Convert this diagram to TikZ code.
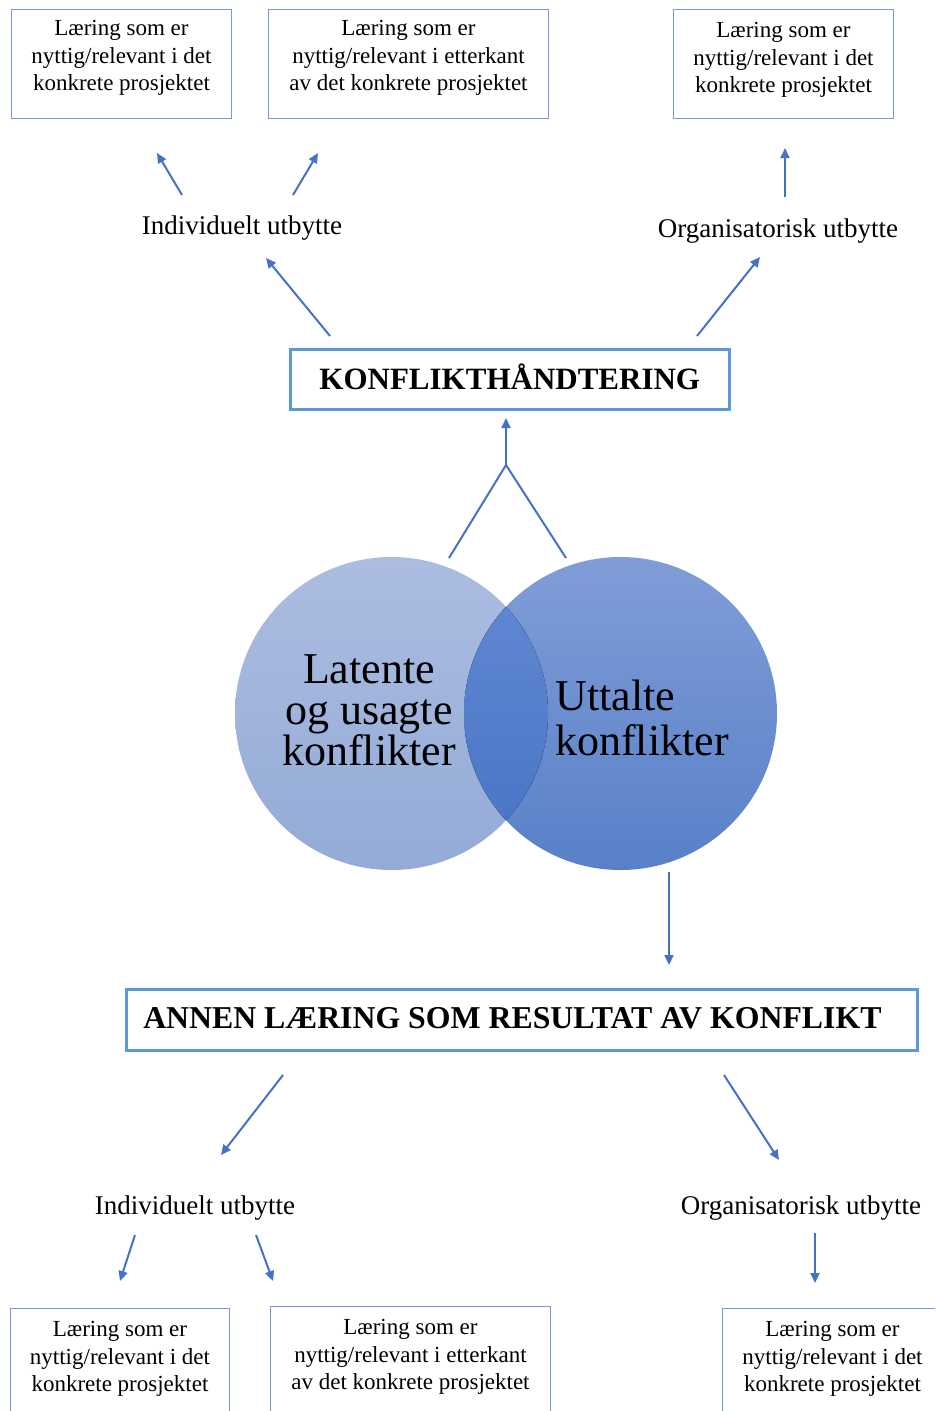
\documentclass[tikz,border=0pt]{standalone}
\usepackage{fontspec}
\setmainfont{Liberation Serif}
\usetikzlibrary{arrows.meta}
\definecolor{arrowblue}{RGB}{68,114,196}
\definecolor{boxline}{RGB}{120,155,215}
\definecolor{titleline}{RGB}{91,155,213}
\definecolor{lctop}{RGB}{172,188,225}
\definecolor{lcbot}{RGB}{147,171,214}
\definecolor{rctop}{RGB}{128,157,216}
\definecolor{rcbot}{RGB}{88,128,200}
\definecolor{ovtop}{RGB}{100,138,210}
\definecolor{ovbot}{RGB}{70,115,198}
\newcommand{\boxfont}{\fontsize{23}{27.5}\selectfont}
\newcommand{\lblfont}{\fontsize{27}{32}\selectfont}
\newcommand{\ttlfont}{\fontsize{31}{36}\selectfont\bfseries}
\newcommand{\learnbox}[3]{\parbox[c][109pt][t]{#2}{\boxfont\centering\vspace*{#1}#3\par}}
\begin{document}
\begin{tikzpicture}[x=1pt,y=-1pt,
  smallbox/.style={draw=boxline, line width=1pt, inner sep=0pt, anchor=north west},
  titlebox/.style={draw=titleline, line width=2.5pt, inner sep=0pt, anchor=north west, font=\ttlfont},
  outlbl/.style={font=\lblfont, inner sep=0pt},
  arr/.style={draw=arrowblue, line width=2pt, -{Triangle[length=10pt,width=9pt]}},
  lin/.style={draw=arrowblue, line width=2pt},
  circtext/.style={font=\fontsize{44}{41}\selectfont, inner sep=0pt}]
\useasboundingbox (0,0) rectangle (935,1411);
\clip (0,0) rectangle (935,1411);

% top boxes
\node[smallbox] (tl1) at (11,9) {\learnbox{11pt}{220pt}{Læring som er\\ nyttig/relevant i det\\ konkrete prosjektet}};
\node[smallbox] (tl2) at (268,9) {\learnbox{11pt}{280pt}{Læring som er\\ nyttig/relevant i etterkant\\ av det konkrete prosjektet}};
\node[smallbox] (tr) at (673,9) {\learnbox{13pt}{220pt}{Læring som er\\ nyttig/relevant i det\\ konkrete prosjektet}};

% top labels
\node[outlbl] (indtop) at (242,228) {Individuelt utbytte};
\node[outlbl] (orgtop) at (778,231) {Organisatorisk utbytte};

% title box top
\node[titlebox, minimum width=439pt, minimum height=60pt] (konf) at (289,348) {\raisebox{5pt}{KONFLIKTHÅNDTERING}};

% circles
\node[circle, inner sep=0pt, minimum size=313pt, top color=lctop, bottom color=lcbot] (lc) at (391.5,713.5) {};
\node[circle, inner sep=0pt, minimum size=313pt, top color=rctop, bottom color=rcbot] (rc) at (620.5,713.5) {};
\begin{scope}
  \clip (lc.center) circle (156.5pt);
  \fill[top color=ovtop, bottom color=ovbot] (rc.center) circle (156.5pt);
\end{scope}
\node[circtext, align=center] (lctext) at (369,710) {Latente\\ og usagte\\ konflikter};
\node[circtext, align=left, font=\fontsize{44}{45}\selectfont] (rctext) at (642,718) {Uttalte\\ konflikter};

% bottom title box
\node[titlebox, minimum width=791pt, minimum height=61pt] (annen) at (125,988) {\makebox[791pt][l]{\hspace*{17pt}\fontsize{31.8}{36}\selectfont\raisebox{4pt}{ANNEN LÆRING SOM RESULTAT AV KONFLIKT}}};

% bottom labels
\node[outlbl] (indbot) at (195,1208) {Individuelt utbytte};
\node[outlbl] (orgbot) at (801,1208) {Organisatorisk utbytte};

% bottom boxes
\node[smallbox] (bl) at (10,1308) {\learnbox{13pt}{219pt}{Læring som er\\ nyttig/relevant i det\\ konkrete prosjektet}};
\node[smallbox] (bm) at (270,1306) {\learnbox{13pt}{280pt}{Læring som er\\ nyttig/relevant i etterkant\\ av det konkrete prosjektet}};
\node[smallbox] (br) at (722,1308) {\learnbox{13pt}{220pt}{Læring som er\\ nyttig/relevant i det\\ konkrete prosjektet}};

% connector end points
\coordinate (a1s) at (182,195); \coordinate (a1e) at (157,153);
\coordinate (a2s) at (293,195); \coordinate (a2e) at (318,153);
\coordinate (a3s) at (785,197); \coordinate (a3e) at (785,148);
\coordinate (a4s) at (330,336); \coordinate (a4e) at (266,258);
\coordinate (a5s) at (697,336); \coordinate (a5e) at (760,257);
\coordinate (vj) at (506,465); \coordinate (vte) at (506,418);
\coordinate (vl) at (449,558); \coordinate (vr) at (566,558);
\coordinate (a6s) at (669,872); \coordinate (a6e) at (669,965);
\coordinate (a7s) at (283,1075); \coordinate (a7e) at (221,1155);
\coordinate (a8s) at (724,1075); \coordinate (a8e) at (779,1160);
\coordinate (a9s) at (135,1235); \coordinate (a9e) at (120,1281);
\coordinate (a10s) at (256,1235); \coordinate (a10e) at (273,1281);
\coordinate (a11s) at (815,1233); \coordinate (a11e) at (815,1283);

% connectors
\draw[arr] (a1s) -- (a1e);
\draw[arr] (a2s) -- (a2e);
\draw[arr] (a3s) -- (a3e);
\draw[arr] (a4s) -- (a4e);
\draw[arr] (a5s) -- (a5e);
\draw[lin, line join=miter] (vl) -- (vj) -- (vr);
\draw[arr] (vj) -- (vte);
\draw[arr] (a6s) -- (a6e);
\draw[arr] (a7s) -- (a7e);
\draw[arr] (a8s) -- (a8e);
\draw[arr] (a9s) -- (a9e);
\draw[arr] (a10s) -- (a10e);
\draw[arr] (a11s) -- (a11e);
\end{tikzpicture}
\end{document}
